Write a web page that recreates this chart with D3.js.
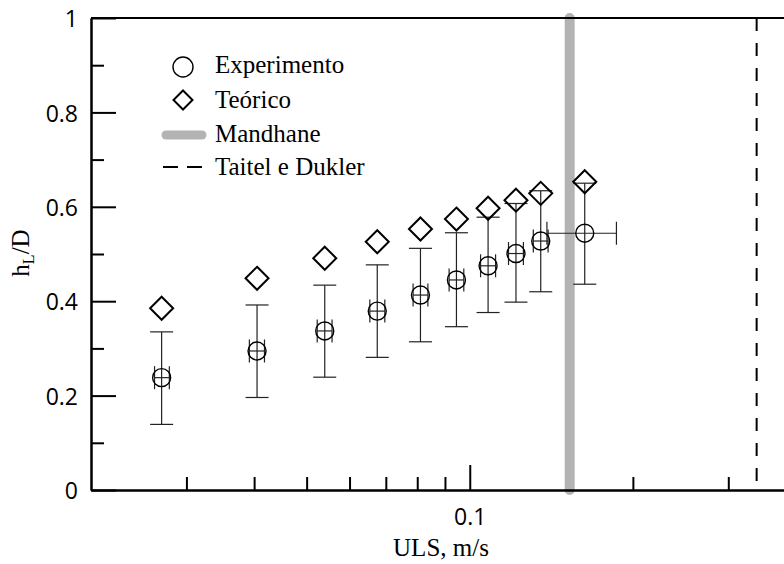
<!DOCTYPE html>
<html>
<head>
<meta charset="utf-8">
<script src="https://cdn.jsdelivr.net/npm/d3@7"></script>
<style>
  body { margin: 0; background: #fff; }
  .tick text { font-family: 'Open Sans', sans-serif; font-size: 23px; fill: #000; }
  .serif { font-family: 'Liberation Serif', 'Times New Roman', serif; font-size: 25px; fill: #000; }
</style>
</head>
<body>
<svg width="784" height="564"></svg>
<script>
// ULS (m/s) of each measured point
const uls = [0.0270, 0.0405, 0.0540, 0.0675, 0.0811, 0.0945, 0.1081, 0.1217, 0.1352, 0.1630];
const ulsLow = [0.0262, 0.0392, 0.0523, 0.0654, 0.0786, 0.0916, 0.1047, 0.1179, 0.1310, 0.1388];
const ulsHigh = [0.0279, 0.0418, 0.0557, 0.0697, 0.0837, 0.0975, 0.1116, 0.1256, 0.1395, 0.1865];

// hL/D experiment with error range, and theoretical value
const hExp = [0.238, 0.2945, 0.337, 0.379, 0.413, 0.445, 0.475, 0.501, 0.5275, 0.544];
const hExpLow = [0.139, 0.196, 0.239, 0.281, 0.314, 0.346, 0.376, 0.398, 0.420, 0.436];
const hExpHigh = [0.335, 0.392, 0.434, 0.477, 0.512, 0.545, 0.578, 0.607, 0.634, 0.650];
const hTeo = [0.385, 0.4485, 0.491, 0.526, 0.553, 0.574, 0.597, 0.614, 0.6285, 0.653];

// transition limits
const mandhane = 0.1529;
const taitelDukler = 0.3384;

// ticks
const xMajorTicks = [0.1];
const xMinorTicks = [0.03, 0.04, 0.05, 0.06, 0.07, 0.08, 0.09, 0.2, 0.3];
const yMajorTicks = [0, 0.2, 0.4, 0.6, 0.8, 1];
const yMinorTicks = [0.1, 0.3, 0.5, 0.7, 0.9];

const legendItems = ['Experimento', 'Teórico', 'Mandhane', 'Taitel e Dukler'];

(function (d3) {
  'use strict';

  const svg = d3.select('svg');
  const margin = { top: 18, left: 91 };
  const innerWidth = 705;   // runs past the right edge of the picture
  const innerHeight = 472;

  const data = uls.map((u, i) => ({
    x: u, x0: ulsLow[i], x1: ulsHigh[i],
    y: hExp[i], y0: hExpLow[i], y1: hExpHigh[i], t: hTeo[i]
  }));

  const xScale = d3.scaleLog().domain([0.02, 0.4]).range([0, innerWidth]);
  const yScale = d3.scaleLinear().domain([0, 1]).range([innerHeight, 0]);

  const g = svg.append('g')
    .attr('transform', `translate(${margin.left},${margin.top})`);

  // Mandhane line (thick gray)
  g.append('line')
    .attr('x1', xScale(mandhane)).attr('x2', xScale(mandhane))
    .attr('y1', yScale(1)).attr('y2', yScale(0))
    .attr('stroke', '#b3b3b3')
    .attr('stroke-width', 10)
    .attr('stroke-linecap', 'round');

  // Taitel e Dukler line (dashed)
  g.append('line')
    .attr('x1', xScale(taitelDukler)).attr('x2', xScale(taitelDukler))
    .attr('y1', yScale(1)).attr('y2', yScale(0))
    .attr('stroke', '#000')
    .attr('stroke-width', 2)
    .attr('stroke-dasharray', '13,12');

  // axes
  const styleAxis = sel => {
    sel.selectAll('path.domain').attr('stroke', '#000').attr('stroke-width', 2);
    sel.selectAll('.tick line').attr('stroke', '#000').attr('stroke-width', 2);
  };

  g.append('g').call(d3.axisLeft(yScale)
      .tickValues(yMajorTicks).tickSize(-25).tickSizeOuter(0).tickPadding(13)
      .tickFormat(d3.format('')))
    .call(styleAxis)
    .selectAll('.tick text').attr('dy', '0.38em');

  g.append('g').call(d3.axisLeft(yScale)
      .tickValues(yMinorTicks).tickSize(-13).tickSizeOuter(0).tickFormat(''))
    .call(styleAxis);

  g.append('g').attr('transform', `translate(0,${innerHeight})`)
    .call(d3.axisBottom(xScale)
      .tickValues(xMajorTicks).tickSize(-25).tickSizeOuter(0).tickPadding(19)
      .tickFormat(d3.format('')))
    .call(styleAxis);

  g.append('g').attr('transform', `translate(0,${innerHeight})`)
    .call(d3.axisBottom(xScale)
      .tickValues(xMinorTicks).tickSize(-13).tickSizeOuter(0).tickFormat(''))
    .call(styleAxis);

  // top frame line
  g.append('line')
    .attr('x1', 0).attr('x2', innerWidth)
    .attr('y1', 0).attr('y2', 0)
    .attr('stroke', '#000').attr('stroke-width', 2);

  // error bars
  const cap = 11.5;
  const err = g.append('g').attr('stroke', '#222').attr('stroke-width', 1.2);

  data.forEach(d => {
    const cx = xScale(d.x);
    const cy = yScale(d.y);
    // vertical
    err.append('line').attr('x1', cx).attr('x2', cx)
      .attr('y1', yScale(d.y0)).attr('y2', yScale(d.y1));
    err.append('line').attr('x1', cx - cap).attr('x2', cx + cap)
      .attr('y1', yScale(d.y0)).attr('y2', yScale(d.y0));
    err.append('line').attr('x1', cx - cap).attr('x2', cx + cap)
      .attr('y1', yScale(d.y1)).attr('y2', yScale(d.y1));
    // horizontal
    err.append('line').attr('x1', xScale(d.x0)).attr('x2', xScale(d.x1))
      .attr('y1', cy).attr('y2', cy);
    err.append('line').attr('x1', xScale(d.x0)).attr('x2', xScale(d.x0))
      .attr('y1', cy - cap).attr('y2', cy + cap);
    err.append('line').attr('x1', xScale(d.x1)).attr('x2', xScale(d.x1))
      .attr('y1', cy - cap).attr('y2', cy + cap);
  });

  // experiment circles
  g.selectAll('circle.exp').data(data)
    .enter().append('circle')
      .attr('class', 'exp')
      .attr('cx', d => xScale(d.x))
      .attr('cy', d => yScale(d.y))
      .attr('r', 9)
      .attr('fill', 'none')
      .attr('stroke', '#000')
      .attr('stroke-width', 1.4);

  // theoretical diamonds
  const diamond = s => `M0,${-s}L${s},0L0,${s}L${-s},0Z`;
  g.selectAll('path.teo').data(data)
    .enter().append('path')
      .attr('class', 'teo')
      .attr('d', diamond(11.5))
      .attr('transform', d => `translate(${xScale(d.x)},${yScale(d.t)})`)
      .attr('fill', 'none')
      .attr('stroke', '#000')
      .attr('stroke-width', 2);

  // legend
  const legend = svg.append('g');
  legend.append('circle')
    .attr('cx', 183).attr('cy', 67).attr('r', 10)
    .attr('fill', 'none').attr('stroke', '#000').attr('stroke-width', 1.4);
  legend.append('path')
    .attr('d', diamond(9.5))
    .attr('transform', 'translate(183,100)')
    .attr('fill', 'none').attr('stroke', '#000').attr('stroke-width', 2);
  legend.append('line')
    .attr('x1', 166).attr('x2', 202).attr('y1', 135).attr('y2', 135)
    .attr('stroke', '#b3b3b3').attr('stroke-width', 9).attr('stroke-linecap', 'round');
  legend.append('line')
    .attr('x1', 163).attr('x2', 203).attr('y1', 167).attr('y2', 167)
    .attr('stroke', '#000').attr('stroke-width', 2).attr('stroke-dasharray', '15,9');

  const legendY = [73, 108, 142, 175];
  legend.selectAll('text').data(legendItems)
    .enter().append('text')
      .attr('class', 'serif')
      .attr('x', 215)
      .attr('y', (d, i) => legendY[i])
      .text(d => d);

  // axis titles
  svg.append('text')
    .attr('class', 'serif')
    .attr('x', 441).attr('y', 556)
    .attr('text-anchor', 'middle')
    .text('ULS, m/s');

  const yLabel = svg.append('text')
    .attr('class', 'serif')
    .attr('transform', 'translate(29,253) rotate(-90)')
    .attr('text-anchor', 'middle');
  yLabel.append('tspan').text('h');
  yLabel.append('tspan').attr('font-size', '16px').attr('dy', 5).text('L');
  yLabel.append('tspan').attr('dy', -5).text('/D');

}(d3));
</script>
</body>
</html>
